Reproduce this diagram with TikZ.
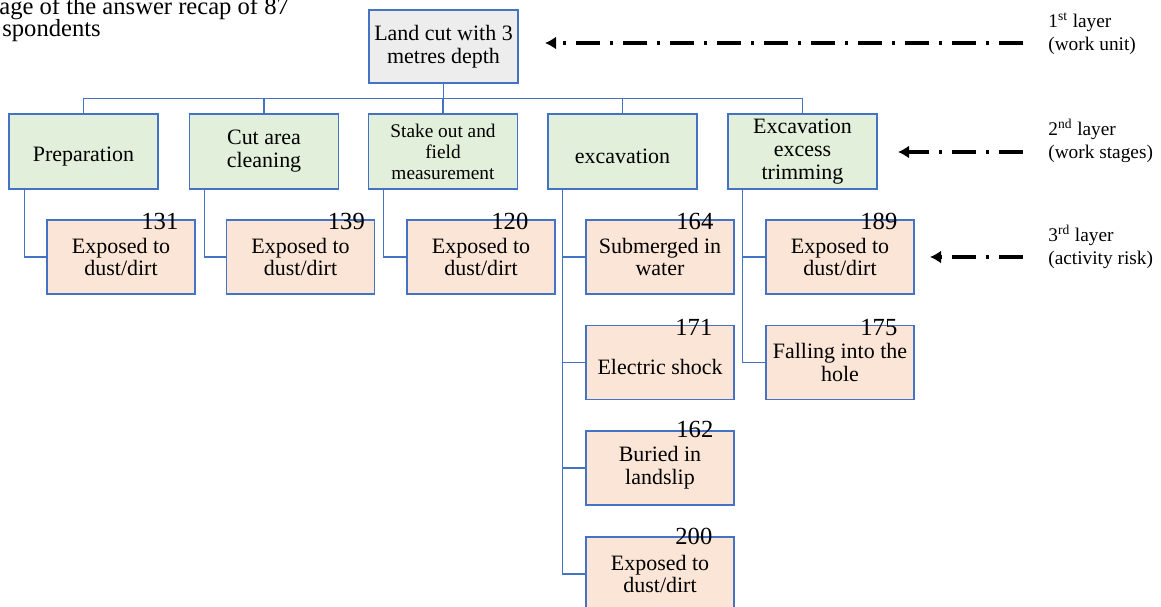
\documentclass[tikz,border=0pt]{standalone}
\usepackage{fontspec}
\setmainfont{Liberation Serif}
\usetikzlibrary{calc,arrows.meta}

\definecolor{boxline}{HTML}{4472C4}
\definecolor{unitfill}{HTML}{EDEDED}
\definecolor{stagefill}{HTML}{E2EFDA}
\definecolor{riskfill}{HTML}{FBE5D6}

\tikzset{
  unitbox/.style={draw=boxline, fill=unitfill, line width=0.8pt, inner sep=1pt,
    minimum width=2.98cm, minimum height=1.46cm, align=center,
    font=\fontsize{12.5}{13}\selectfont,
    execute at begin node=\rule{0pt}{14pt}},
  stagebox/.style={unitbox, fill=stagefill, minimum height=1.5cm},
  riskbox/.style={unitbox, fill=riskfill, minimum width=2.96cm, minimum height=1.48cm},
  count/.style={anchor=base east, inner sep=0pt, font=\fontsize{14}{14}\selectfont},
  link/.style={draw=boxline, line width=0.8pt},
  layertext/.style={anchor=west, inner sep=0pt, align=left,
    font=\fontsize{11}{13}\selectfont},
  layerarrow/.style={line width=1.9pt,
    dash pattern=on 0.48cm off 0.2cm on 0.06cm off 0.2cm,
    -{Latex[length=0.22cm,width=0.26cm]}}
}

\begin{document}
\begin{tikzpicture}[x=0.02cm, y=-0.02cm]

  \clip (0,0) rectangle (1161,606);

  % caption, cut off at the page edge
  \begin{scope}[every node/.style={anchor=base west, inner sep=0pt, font=\fontsize{14}{12.5}\selectfont}]
    \node (cap1) at (-1,14) {age of the answer recap of 87};
    \node (cap2) at (2,36)  {spondents};
  \end{scope}

  % 1st layer
  \node[unitbox] (unit) at (443.5,46.5) {Land cut with 3\\metres depth};

  % 2nd layer
  \node[stagebox] (prep)  at (83.5,151.5)  {Preparation};
  \node[stagebox] (clean) at (264,151.5)   {Cut area\\cleaning};
  \node[stagebox, font=\fontsize{11}{12}\selectfont] (stake) at (443,151.5) {Stake out and\\field\\measurement};
  \node[stagebox] (excav) at (622.5,151.5) {excavation};
  \node[stagebox] (trim)  at (802.5,151.5) {Excavation\\excess\\trimming};

  % 3rd layer
  \begin{scope}[every node/.style={riskbox}]
    \node (dust1) at (121,257)   {Exposed to\\dust/dirt};
    \node (dust2) at (300.5,257) {Exposed to\\dust/dirt};
    \node (dust3) at (481,257)   {Exposed to\\dust/dirt};
    \node (water) at (660,257)   {Submerged in\\water};
    \node (shock) at (660,362.5) {Electric shock};
    \node (slip)  at (660,468)   {Buried in\\landslip};
    \node (dust4) at (660,574)   {Exposed to\\dust/dirt};
    \node (dust5) at (840,257)   {Exposed to\\dust/dirt};
    \node (hole)  at (840,362.5) {Falling into the\\hole};
  \end{scope}

  % respondent counts
  \node[count] (n1) at ($(dust1.north east)+(-17,10)$) {131};
  \node[count] (n2) at ($(dust2.north east)+(-10,10)$) {139};
  \node[count] (n3) at ($(dust3.north east)+(-27,10)$) {120};
  \node[count] (n4) at ($(water.north east)+(-21,10)$) {164};
  \node[count] (n5) at ($(shock.north east)+(-22,11)$) {171};
  \node[count] (n6) at ($(slip.north east)+(-21,7)$)   {162};
  \node[count] (n7) at ($(dust4.north east)+(-22,8)$)  {200};
  \node[count] (n8) at ($(dust5.north east)+(-17,10)$) {189};
  \node[count] (n9) at ($(hole.north east)+(-17,11)$)  {175};

  % tree lines
  \coordinate (bus) at ($(unit.south)+(0,15)$);
  \draw[link] (unit.south) -- (bus);
  \draw[link] (prep.north)  |- (bus);
  \draw[link] (clean.north) |- (bus);
  \draw[link] (stake.north) |- (bus);
  \draw[link] (excav.north) |- (bus);
  \draw[link] (trim.north)  |- (bus);

  \draw[link] ($(prep.south west)+(16,0)$)    |- (dust1.west);
  \draw[link] ($(clean.south west)+(15.5,0)$) |- (dust2.west);
  \draw[link] ($(stake.south west)+(15.5,0)$) |- (dust3.west);
  \draw[link] ($(excav.south west)+(15,0)$)   |- (water.west);
  \draw[link] ($(excav.south west)+(15,0)$)   |- (shock.west);
  \draw[link] ($(excav.south west)+(15,0)$)   |- (slip.west);
  \draw[link] ($(excav.south west)+(15,0)$)   |- (dust4.west);
  \draw[link] ($(trim.south west)+(15,0)$)    |- (dust5.west);
  \draw[link] ($(trim.south west)+(15,0)$)    |- (hole.west);

  % layer marks
  \node[layertext] (lay1) at (1048,34)  {1\textsuperscript{st} layer\\(work unit)};
  \node[layertext] (lay2) at (1048,141) {2\textsuperscript{nd} layer\\(work stages)};
  \node[layertext] (lay3) at (1048,247) {3\textsuperscript{rd} layer\\(activity risk)};

  \coordinate (tip1) at (545,43);
  \coordinate (tip2) at (898,152);
  \coordinate (tip3) at (930,257);

  \draw[layerarrow] ($(lay1.west |- tip1)+(-25,0)$) -- (tip1);
  \draw[layerarrow] ($(lay2.west |- tip2)+(-25,0)$) -- (tip2);
  \draw[layerarrow] ($(lay3.west |- tip3)+(-25,0)$) -- (tip3);

\end{tikzpicture}
\end{document}
